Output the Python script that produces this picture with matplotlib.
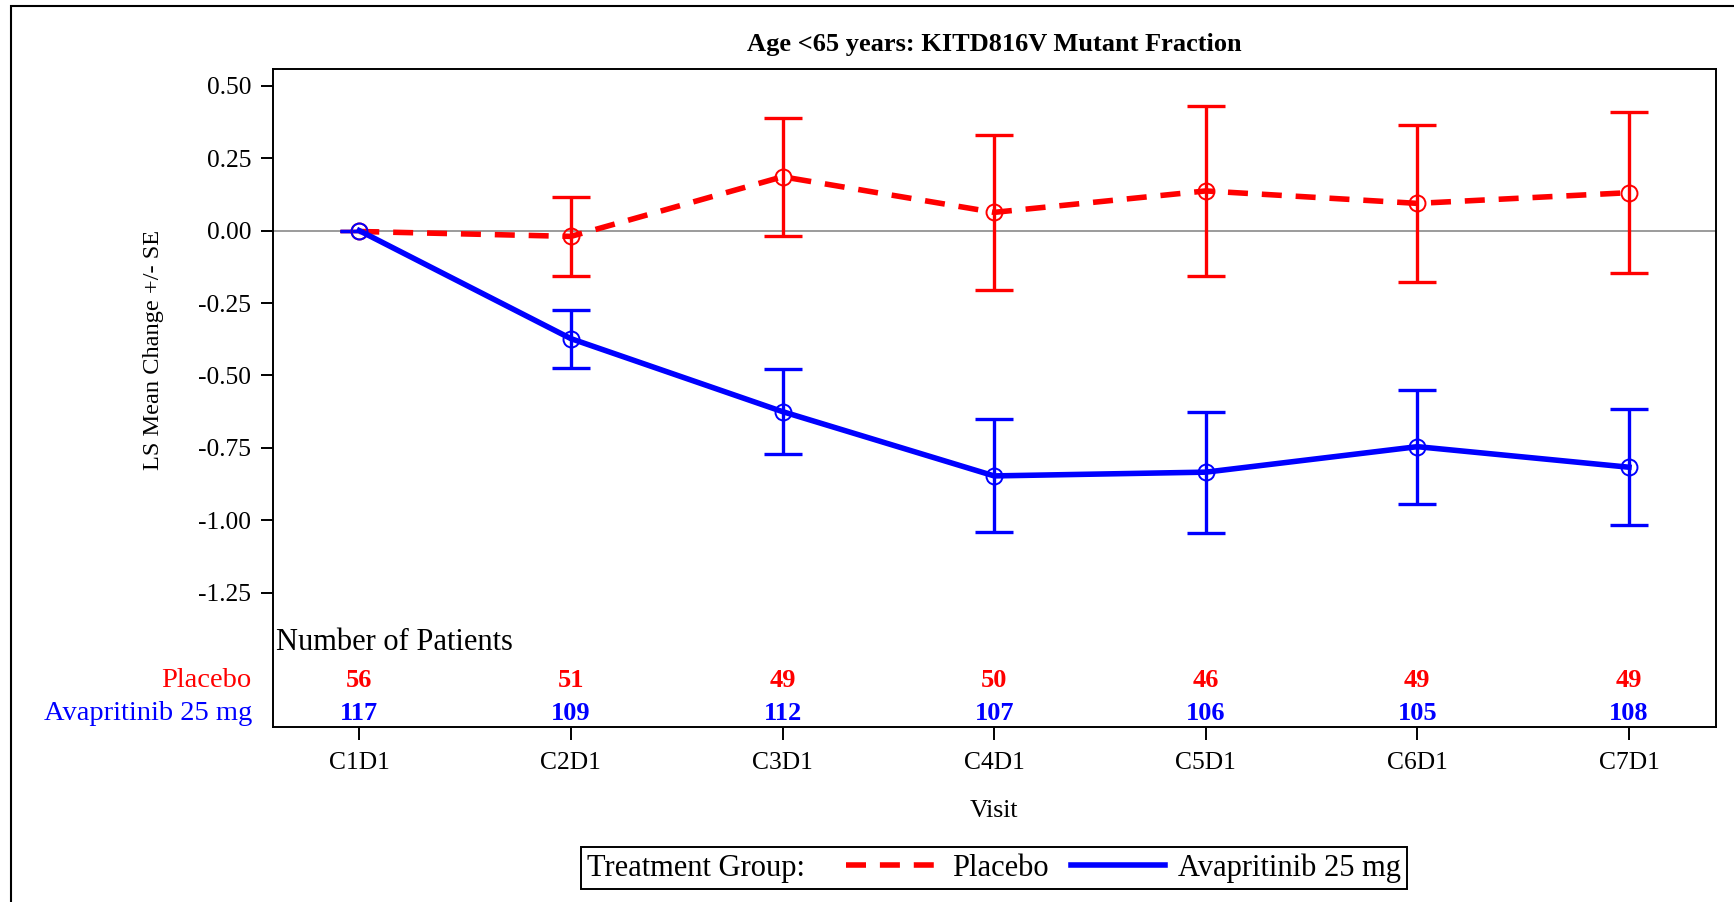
import numpy as np
import matplotlib
matplotlib.use('Agg')
import matplotlib.pyplot as plt
from matplotlib.lines import Line2D
from matplotlib.offsetbox import HPacker
from matplotlib.patches import Rectangle
from matplotlib.ticker import FormatStrFormatter

plt.rcParams['font.family'] = ['Liberation Serif', 'DejaVu Serif']
plt.rcParams['axes.unicode_minus'] = False

# LS mean change from baseline (+/- SE) by visit
visits = ['C1D1', 'C2D1', 'C3D1', 'C4D1', 'C5D1', 'C6D1', 'C7D1']

placebo_mean = [-0.003, -0.020, 0.186, 0.063, 0.137, 0.094, 0.131]
placebo_se = [0.0, 0.136, 0.204, 0.268, 0.294, 0.270, 0.278]
placebo_n = [56, 51, 49, 50, 46, 49, 49]

avap_mean = [0.0, -0.373, -0.625, -0.847, -0.834, -0.746, -0.817]
avap_se = [0.0, 0.100, 0.146, 0.195, 0.209, 0.197, 0.200]
avap_n = [117, 109, 112, 107, 106, 105, 108]

yticks = [0.50, 0.25, 0.00, -0.25, -0.50, -0.75, -1.00, -1.25]

RED = '#FF0000'
BLUE = '#0000FF'
DASH = (0, (3.6, 2.5))

fig = plt.figure(figsize=(17.34, 9.02), dpi=100)
ax = fig.add_axes([0.1574, 0.194, 0.8322, 0.7295])
x = np.arange(len(visits))

ax.axhline(0, color='#808080', lw=1.1, zorder=1)

groups = [
    (placebo_mean, placebo_se, RED, DASH),
    (avap_mean, avap_se, BLUE, '-'),
]
for mean, se, color, ls in groups:
    ax.errorbar(x, mean, yerr=se, color=color, ls='none', elinewidth=2.4,
                capsize=13.8, capthick=2.4, zorder=2)
    ax.plot(x, mean, color=color, lw=4.0, linestyle=ls, marker='o',
            mfc='none', ms=11.5, mew=1.4, zorder=3)

# patient counts under the curves
ax.text(0.002, -1.423, 'Number of Patients', transform=ax.get_yaxis_transform(),
        ha='left', va='center', fontsize=22)
for xi, n in zip(x, placebo_n):
    ax.text(xi, -1.553, str(n), color=RED, fontweight='bold', fontsize=19,
            ha='center', va='center')
for xi, n in zip(x, avap_n):
    ax.text(xi, -1.667, str(n), color=BLUE, fontweight='bold', fontsize=19,
            ha='center', va='center')
ax.text(-0.0146, -1.553, 'Placebo', color=RED, fontsize=20.5,
        transform=ax.get_yaxis_transform(), ha='right', va='center', clip_on=False)
ax.text(-0.0146, -1.667, 'Avapritinib 25 mg', color=BLUE, fontsize=20.5,
        transform=ax.get_yaxis_transform(), ha='right', va='center', clip_on=False)

ax.set_xlim(-0.408, 6.411)
ax.set_ylim(-1.714, 0.558)
ax.set_xticks(x, visits)
ax.set_yticks(yticks)
ax.yaxis.set_major_formatter(FormatStrFormatter('%.2f'))
ax.tick_params(direction='out', length=9, width=1.4, labelsize=18.4)
ax.tick_params(axis='y', pad=6.5)
ax.tick_params(axis='x', pad=8.8)
for sp in ax.spines.values():
    sp.set_linewidth(1.4)
    sp.set_color('black')

ax.set_xlabel('Visit', fontsize=18.6)
ax.xaxis.set_label_coords(0.5, -0.128)
ax.xaxis.label.set_verticalalignment('center')
ax.set_ylabel('LS Mean Change +/- SE', fontsize=17.6)
ax.yaxis.set_label_coords(-0.0825, 0.573)
ax.yaxis.label.set_verticalalignment('center')

ax.text(0.5, 1.0376, 'Age <65 years: KITD816V Mutant Fraction', transform=ax.transAxes,
        ha='center', va='center', fontsize=19, fontweight='bold')

# legend with the title sitting to the left of the entries
handles = [Line2D([], [], color=RED, lw=4.0, ls=DASH),
           Line2D([], [], color=BLUE, lw=4.0)]
leg = fig.legend(handles, ['Placebo', 'Avapritinib 25 mg'], ncol=2, loc='center',
                 bbox_to_anchor=(0.5732, 0.0373), title='Treatment Group:',
                 title_fontsize=22, fontsize=22, frameon=True, fancybox=False,
                 framealpha=1, edgecolor='black', handlelength=3.1,
                 handletextpad=0.4, columnspacing=0.7, borderpad=0.2,
                 borderaxespad=0)
leg.get_frame().set_linewidth(1.4)
vbox = leg._legend_box
leg._legend_box = HPacker(pad=vbox.pad, sep=29, align='center',
                          children=[leg._legend_title_box, leg._legend_handle_box])
leg._legend_box.set_figure(fig)
leg._set_loc(leg._loc)

# outer page frame
fig.add_artist(Rectangle((0.0066, -1.0), 2.0, 1.9937, transform=fig.transFigure,
                         fill=False, lw=1.5, edgecolor='black'))

fig.savefig('out.png', dpi=100)
